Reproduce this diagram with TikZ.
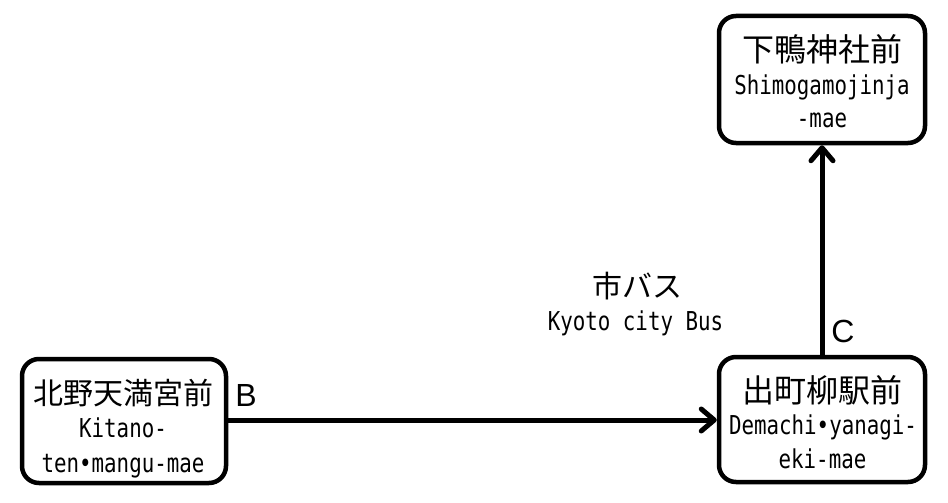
\documentclass[tikz,border=0pt]{standalone}
\usepackage{fontspec}
\usetikzlibrary{arrows.meta}
\newfontfamily\jpfont{Noto Sans CJK JP}
\newfontfamily\monofont[FakeStretch=0.8]{DejaVu Sans Mono}
\newfontfamily\labfont{Liberation Sans}
\tikzset{
  stationbox/.style={draw=black, line width=4.5pt, rounded corners=17pt, fill=white, inner sep=0pt},
  jptext/.style={anchor=base, inner sep=0pt, font=\jpfont\fontsize{30}{36}\selectfont},
  jpbig/.style={anchor=base, inner sep=0pt, font=\jpfont\fontsize{32}{38}\selectfont},
  romtext/.style={anchor=base, inner sep=0pt, font=\monofont\fontsize{26}{30}\selectfont},
  letterlabel/.style={anchor=base, inner sep=0pt, font=\labfont\fontsize{32}{38}\selectfont},
  conn/.style={line width=5pt, -{Straight Barb[round,length=13pt,width=22pt]}}
}
\begin{document}
\begin{tikzpicture}[x=1pt,y=-1pt]
\useasboundingbox[fill=white] (0,0) rectangle (948,503);
% boxes
\node[stationbox, minimum width=204pt, minimum height=124pt] (kit) at (124,421) {};
\node[stationbox, minimum width=206pt, minimum height=125pt] (dem) at (822,419.5) {};
\node[stationbox, minimum width=206pt, minimum height=127pt] (shi) at (822,79.5) {};
% texts in boxes
\node[jptext] (kitj) at (124,404) {北野天満宮前};
\node[romtext] (kitr1) at (123,437) {Kitano-};
\node[romtext] (kitr2) at (123,472) {ten•mangu-mae};
\node[jpbig] (demj) at (822.5,402) {出町柳駅前};
\node[romtext] (demr1) at (823,434) {Demachi•yanagi-};
\node[romtext] (demr2) at (822.5,468) {eki-mae};
\node[jpbig] (shij) at (822.5,62) {下鴨神社前};
\node[romtext] (shir1) at (822,94) {Shimogamojinja};
\node[romtext] (shir2) at (822,128) {-mae};
% bus label
\node[jptext] (busj) at (637.5,297) {市バス};
\node[romtext] (busr) at (635.5,330) {Kyoto city Bus};
% connectors
\draw[conn] (kit.east |- 0,420) -- (dem.west |- 0,420);
\draw[conn] (dem.north) -- (shi.south);
% line labels
\node[letterlabel] (labB) at (246,406.5) {B};
\node[letterlabel] (labC) at (843,342) {C};
\end{tikzpicture}
\end{document}
